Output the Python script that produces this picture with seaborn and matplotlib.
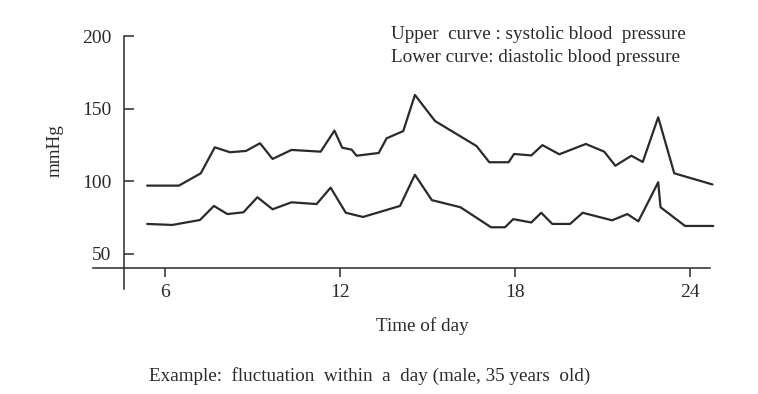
import matplotlib
matplotlib.use("Agg")
import matplotlib.pyplot as plt
import numpy as np
import pandas as pd
import seaborn as sns

# ---- data ----
sys_hours = [5.40, 6.49, 7.24, 7.72, 8.24, 8.79, 9.27, 9.70, 10.35, 11.35, 11.82,
             12.09, 12.41, 12.58, 13.34, 13.61, 14.18, 14.58, 15.27, 16.69, 17.13,
             17.79, 17.98, 18.57, 18.95, 19.53, 20.44, 21.07, 21.45, 22.00, 22.39,
             22.92, 23.47, 24.78]
systolic = [97, 97, 105.5, 123.4, 120.0, 120.9, 126.2, 115.4, 121.6, 120.4, 134.9,
            123.1, 121.8, 117.6, 119.5, 129.6, 134.6, 159.5, 141.5, 124.3, 113.1,
            113.1, 118.8, 117.8, 124.9, 118.6, 125.7, 120.4, 110.7, 117.6, 113.3,
            144.1, 105.5, 97.8]

dia_hours = [5.40, 6.26, 7.21, 7.69, 8.15, 8.70, 9.18, 9.70, 10.35, 11.21, 11.69,
             12.21, 12.80, 14.07, 14.58, 15.16, 16.14, 17.19, 17.67, 17.95, 18.57,
             18.91, 19.29, 19.90, 20.33, 21.34, 21.86, 22.24, 22.92, 23.00, 23.84,
             24.81]
diastolic = [70.6, 69.9, 73.3, 83.0, 77.4, 78.6, 89.0, 80.7, 85.5, 84.3, 95.6,
             78.3, 75.4, 83.0, 104.5, 87.0, 82.1, 68.3, 68.3, 73.9, 71.6,
             78.3, 70.6, 70.6, 78.3, 73.1, 77.4, 72.4, 99.3, 82.1, 69.2,
             69.2]

x_ticks = [6, 12, 18, 24]
y_ticks = [50, 100, 150, 200]

df = pd.concat([
    pd.DataFrame({"hour": sys_hours, "mmHg": systolic, "curve": "systolic"}),
    pd.DataFrame({"hour": dia_hours, "mmHg": diastolic, "curve": "diastolic"}),
], ignore_index=True)

sns.set_theme(style="white")
plt.rcParams['font.family'] = ['Liberation Serif', 'DejaVu Serif']

W, H = 758, 394
fig = plt.figure(figsize=(W / 100, H / 100), dpi=100)

# axes placement in pixels
x0, x1 = 3.5, 24.85
y0, y1 = 25, 205
left_px, right_px = 91.7, 714.5
top_px, bot_px = 28.9, 290.1
ax = fig.add_axes([left_px / W, 1 - bot_px / H, (right_px - left_px) / W, (bot_px - top_px) / H])

ink = "#2a2a2a"
sns.lineplot(data=df, x="hour", y="mmHg", units="curve", estimator=None, sort=False,
             color=ink, lw=1.6, ax=ax, legend=False)

ax.set_xlim(x0, x1)
ax.set_ylim(y0, y1)

for s in ["top", "right"]:
    ax.spines[s].set_visible(False)
ax.spines["left"].set_position(("data", 4.61))
ax.spines["left"].set_bounds(25.8, 200)
ax.spines["bottom"].set_position(("data", 40.4))
ax.spines["bottom"].set_bounds(3.54, 24.69)
for s in ["left", "bottom"]:
    ax.spines[s].set_color(ink)
    ax.spines[s].set_linewidth(1.1)

ax.set_xticks(x_ticks)
ax.set_xticklabels([str(t) for t in x_ticks])
ax.set_yticks(y_ticks)
ax.set_yticklabels([str(t) for t in y_ticks])
ax.tick_params(axis="x", direction="out", length=6.5, width=1.1, color=ink,
               labelsize=14, labelcolor=ink, pad=5, bottom=True)
ax.tick_params(axis="y", direction="in", length=7.5, width=1.1, color=ink,
               labelsize=14, labelcolor=ink, pad=9, left=True)
ax.set_xlabel("")
ax.set_ylabel("")

def fx(px):
    return px / W

def fy(py):
    return 1 - py / H

fs = 13.8
fig.text(fx(390.7), fy(39.3), "Upper  curve : systolic blood  pressure",
         fontsize=fs, color=ink, ha="left", va="baseline")
fig.text(fx(390.7), fy(61.7), "Lower curve: diastolic blood pressure",
         fontsize=fs, color=ink, ha="left", va="baseline")
fig.text(fx(422), fy(331), "Time of day", fontsize=fs, color=ink,
         ha="center", va="baseline")
fig.text(fx(55), fy(151), "mmHg", fontsize=fs, color=ink, rotation=90,
         ha="center", va="center")
fig.text(fx(370), fy(381), "Example:  fluctuation  within  a  day (male, 35 years  old)",
         fontsize=fs, color=ink, ha="center", va="baseline")

fig.savefig("out.png", dpi=100)
